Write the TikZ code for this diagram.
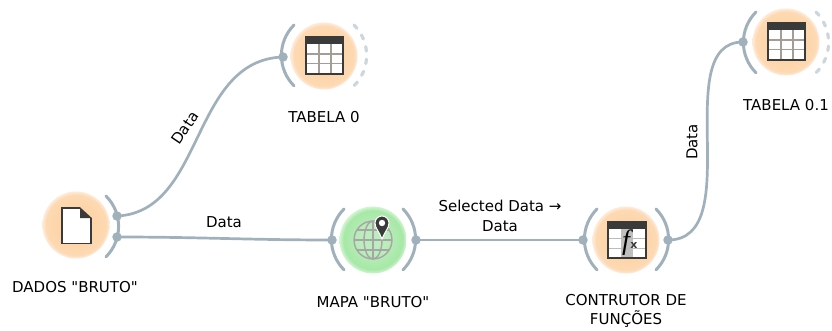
\documentclass[tikz,border=0pt]{standalone}
\usepackage{fontspec}
\newfontfamily\labfont{DejaVu Sans}
\newfontfamily\fxfont{Liberation Serif}
\definecolor{linkc}{HTML}{A0B1BB}
\definecolor{dashc}{HTML}{CDD6DB}
\definecolor{orin}{HTML}{FDD5A9}
\definecolor{ormid}{HTML}{FDD9B3}
\definecolor{orout}{HTML}{FEEBD9}
\definecolor{grin}{HTML}{BCEDBC}
\definecolor{grmid}{HTML}{A6E8A6}
\definecolor{grout}{HTML}{D2F4D2}
\definecolor{iconk}{HTML}{3A3A3A}
\definecolor{gridc}{HTML}{A39D96}
\pgfdeclareradialshading{orangeshade}{\pgfpoint{0bp}{0bp}}{color(0bp)=(orin); color(15bp)=(orin); color(22.5bp)=(ormid); color(25bp)=(orout); color(50bp)=(orout)}
\pgfdeclareradialshading{greenshade}{\pgfpoint{0bp}{0bp}}{color(0bp)=(grin); color(10bp)=(grin); color(22bp)=(grmid); color(25bp)=(grout); color(50bp)=(grout)}
\tikzset{
  orangenode/.style={circle,minimum size=67pt,inner sep=0pt,shading=orangeshade},
  greennode/.style={circle,minimum size=67pt,inner sep=0pt,shading=greenshade},
  port/.style={circle,fill=linkc,minimum size=9.5pt,inner sep=0pt},
  link/.style={draw=linkc,line width=2.7pt},
  chan/.style={draw=linkc,line width=3pt,line cap=round},
  chandash/.style={draw=dashc,line width=3.2pt,line cap=round,dash pattern=on 4.5pt off 8pt},
  lab/.style={font=\labfont\fontsize{15}{19.5}\selectfont,text=black,inner sep=0pt,align=center},
}
\newcommand{\tableicon}[1]{%
  \begin{scope}[shift={(#1)}]
    \fill[white] (-18,-19) rectangle (19,18);
    \fill[iconk] (-18,-19) rectangle (19,-12);
    \draw[gridc,line width=1.1pt] (-5,-12) -- (-5,18) (7,-12) -- (7,18) (-18,-2) -- (19,-2) (-18,7.5) -- (19,7.5);
    \draw[iconk,line width=1.5pt] (-18,-19) rectangle (19,18);
  \end{scope}}
\begin{document}
\begin{tikzpicture}[x=1pt,y=-1pt]
\useasboundingbox (0,0) rectangle (832,331);
\node[orangenode] (dados) at (76,225) {};
\node[orangenode] (tab0) at (324,56) {};
\node[greennode] (mapa) at (373,240) {};
\node[orangenode] (contr) at (626,240) {};
\node[orangenode] (tab1) at (786,42) {};
\node[port] (dadosA) at (117,216) {};
\node[port] (dadosB) at (117,237) {};
\node[port] (tab0in) at (283,57) {};
\node[port] (mapain) at (332,240) {};
\node[port] (mapaout) at (416,240) {};
\node[port] (contrin) at (583,240) {};
\node[port] (controut) at (668,240) {};
\node[port] (tab1in) at (743,42) {};
\draw[link] (dadosA.center) .. controls (205,212) and (190,60) .. (tab0in.center);
\draw[link] (dadosB.center) .. controls (200,237) and (250,240) .. (mapain.center);
\draw[link] (mapaout.center) -- (contrin.center);
\draw[link] (controut.center) .. controls (748,240) and (668,42) .. (tab1in.center);
\draw[chan] (106,196) arc[start angle=-45,end angle=45,radius=43];
\draw[chan] (294,25) arc[start angle=225,end angle=135,radius=43];
\draw[chandash] (354,25) arc[start angle=-45,end angle=45,radius=43];
\draw[chan] (344,209) arc[start angle=225,end angle=135,radius=43];
\draw[chan] (403,209) arc[start angle=-45,end angle=45,radius=43];
\draw[chan] (597,209) arc[start angle=225,end angle=135,radius=43];
\draw[chan] (656,209) arc[start angle=-45,end angle=45,radius=43];
\draw[chan] (756,12) arc[start angle=225,end angle=135,radius=43];
\draw[chandash] (816,12) arc[start angle=-45,end angle=45,radius=43];
% file icon
\begin{scope}[shift={(dados.center)}]
  \fill[white] (-14,-17) -- (4,-17) -- (15,-7) -- (15,18.5) -- (-14,18.5) -- cycle;
  \draw[iconk,line width=1.7pt,line join=miter] (4,-17) -- (-14,-17) -- (-14,18.5) -- (15,18.5) -- (15,-7);
  \fill[iconk] (4,-17.8) -- (15.8,-7) -- (4,-7) -- cycle;
\end{scope}
\tableicon{tab0.center}
\tableicon{tab1.center}
% globe
\begin{scope}[shift={(mapa.center)}]
  \draw[gray!70,line width=1.4pt] (0,0) circle[radius=19];
  \draw[gray!70,line width=1.4pt] (0,-19) -- (0,19) (-19,0) -- (19,0) (-16,-10) -- (16,-10) (-16,10) -- (16,10);
  \draw[gray!70,line width=1.4pt] (0,0) ellipse[x radius=9,y radius=19];
  \fill[iconk,draw=white,line width=1pt] (9,-1) .. controls (6.5,-8) and (2,-12) .. (2,-17) arc[start angle=180,end angle=360,radius=7] .. controls (16,-12) and (11.5,-8) .. (9,-1) -- cycle;
  \fill[white] (9,-17) circle[radius=3.2];
\end{scope}
% function table
\begin{scope}[shift={(contr.center)}]
  \fill[white] (-18,-18) rectangle (20,18);
  \fill[gray!50] (-5,-11) rectangle (7,18);
  \fill[iconk] (-18,-18) rectangle (20,-11);
  \draw[gridc!70,line width=.9pt] (-18,-2) -- (20,-2) (-18,8) -- (20,8);
  \draw[iconk,line width=1.5pt] (-18,-18) rectangle (20,18);
  \node[inner sep=0pt,text=black] (fxf) at (0,3) {\fxfont\fontsize{28}{28}\selectfont\itshape f};
  \node[inner sep=0pt,text=iconk] (fxx) at (8,5.5) {\labfont\fontsize{11}{11}\selectfont\bfseries x};
\end{scope}
% labels
\node[lab] (l1) at (75,287) {DADOS "BRUTO"};
\node[lab] (l2) at (324,117) {TABELA 0};
\node[lab] (l3) at (373,302) {MAPA "BRUTO"};
\node[lab] (l4) at (626,311) {CONTRUTOR DE\\FUNÇÕES};
\node[lab] (l5) at (786,105) {TABELA 0.1};
\node[lab,rotate=56] (e1) at (185,128) {Data};
\node[lab] (e2) at (224,222) {Data};
\node[lab] (e3) at (500,216) {Selected Data →\\Data};
\node[lab,rotate=90] (e4) at (692,142) {Data};
\end{tikzpicture}
\end{document}
